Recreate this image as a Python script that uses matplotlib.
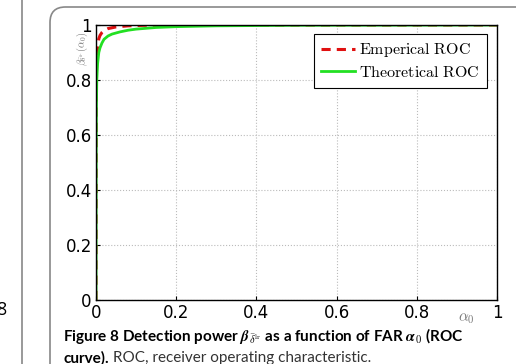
import numpy as np
import matplotlib.pyplot as plt
from matplotlib.patches import FancyBboxPatch

plt.rcParams['mathtext.fontset'] = 'cm'

# ROC data
alpha_theo = [0, 0.0005, 0.001, 0.002, 0.004, 0.007, 0.01, 0.015, 0.02, 0.03,
              0.04, 0.06, 0.08, 0.1, 0.15, 0.2, 0.3, 0.5, 1.0]
beta_theo = [0, 0.55, 0.7, 0.8, 0.86, 0.9, 0.917, 0.935, 0.948, 0.96,
             0.967, 0.975, 0.981, 0.985, 0.991, 0.994, 0.997, 0.999, 1.0]

alpha_emp = [0, 0.0005, 0.001, 0.002, 0.004, 0.007, 0.01, 0.015, 0.02, 0.03,
             0.05, 0.08, 0.12, 0.2, 1.0]
beta_emp = [0, 0.7, 0.82, 0.88, 0.92, 0.95, 0.962, 0.973, 0.98, 0.987,
            0.993, 0.997, 0.999, 1.0, 1.0]

xticks = [0, 0.2, 0.4, 0.6, 0.8, 1]
xticklabels = ['0', '0.2', '0.4', '0.6', '0.8', '1']
yticks = [0, 0.2, 0.4, 0.6, 0.8, 1]
yticklabels = ['0', '0.2', '0.4', '0.6', '0.8', '1']

fig = plt.figure(figsize=(5.16, 3.64), dpi=100)

# page decorations
fig.add_artist(plt.Line2D([22/516, 22/516], [0, 1], color='#888888', lw=1.2,
                          transform=fig.transFigure))
frame = FancyBboxPatch((50/516, -0.2), 1.0, 1.2 - 7/364,
                       boxstyle='round,pad=0,rounding_size=0.03',
                       transform=fig.transFigure, fill=False,
                       ec='#888888', lw=1.2, mutation_aspect=516/364)
fig.add_artist(frame)
fig.text(-4/516, 1 - 310/364, '8', fontsize=13, family='Open Sans',
         va='center', ha='left')

ax = fig.add_axes([96/516, 1 - 300/364, 401/516, 275/364])

ax.plot(alpha_emp, beta_emp, '--', color='#e01010', lw=2.2, dashes=(3, 2),
        label='Emperical ROC')
ax.plot(alpha_theo, beta_theo, '-', color='#22e022', lw=2.0, label='Theoretical ROC')

ax.set_xlim(0, 1)
ax.set_ylim(0, 1)
ax.set_xticks(xticks)
ax.set_xticklabels(xticklabels)
ax.set_yticks(yticks)
ax.set_yticklabels(yticklabels)
ax.tick_params(direction='in', length=3, labelsize=12, pad=3)
ax.grid(True, linestyle=':', color='#bbbbbb', lw=0.8)
for s in ax.spines.values():
    s.set_linewidth(1.0)

ax.text(-0.033, 0.975, r'$\beta_{\bar{\delta}^{lr}}(\alpha_0)$', transform=ax.transAxes,
        rotation=90, ha='center', va='top', fontsize=7.5, color='#777777')
ax.text(0.923, -0.068, r'$\alpha_0$', transform=ax.transAxes,
        ha='center', va='center', fontsize=11, color='#777777')

leg = ax.legend(loc='upper right', bbox_to_anchor=(0.975, 0.967), borderaxespad=0,
                fancybox=False, edgecolor='black', framealpha=1, handlelength=2.1,
                handletextpad=0.3, labelspacing=0.3, borderpad=0.45,
                prop={'family': 'DejaVu Serif', 'size': 11.5})
leg.get_frame().set_linewidth(0.8)
for t in leg.get_texts():
    t.set_text(r'$\mathrm{' + t.get_text().replace(' ', r'\ ') + '}$')

# caption
fig.text(63/516, 1 - 336/364,
         r'Figure 8 Detection power $\boldsymbol{\beta}_{\bar{\delta}^{\mathrm{lr}}}$ as a function of FAR $\boldsymbol{\alpha}_{\mathbf{0}}$ (ROC',
         fontsize=11, family='Lato', weight='bold', va='center')
t1 = fig.text(63/516, 1 - 358/364, 'curve).', fontsize=11, family='Lato',
              weight='bold', va='center')
fig.canvas.draw()
bb = t1.get_window_extent()
fig.text((bb.x1 + 4)/516, 1 - 358/364, 'ROC, receiver operating characteristic.',
         fontsize=11, family='Lato', va='center', color='#333333')

fig.savefig('out.png', dpi=100)
